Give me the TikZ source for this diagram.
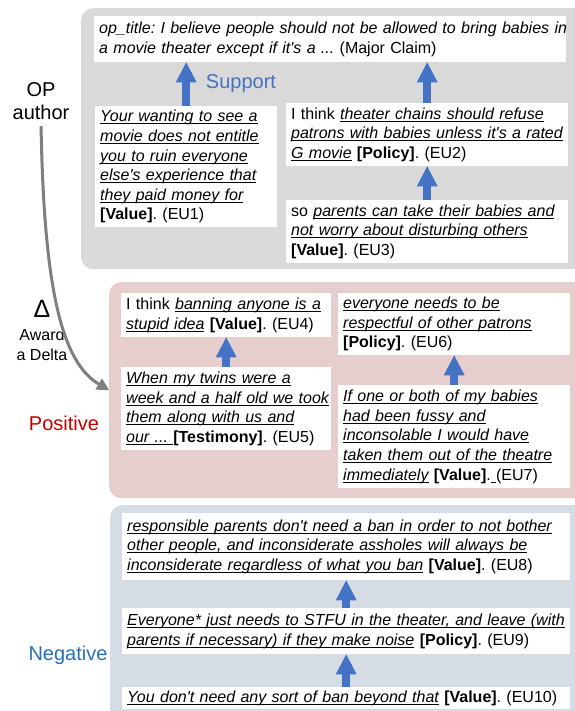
\documentclass[tikz,border=0pt]{standalone}
\usepackage{fontspec}
\setmainfont{Liberation Sans}
\usetikzlibrary{arrows.meta}

\definecolor{panelgray}{HTML}{D9D9D9}
\definecolor{panelpink}{HTML}{E6CDCE}
\definecolor{panelblue}{HTML}{D6DCE4}
\definecolor{arrowblue}{HTML}{4472C4}
\definecolor{posred}{HTML}{C00000}
\definecolor{negblue}{HTML}{2271B8}
\definecolor{deltagray}{HTML}{7F7F7F}

\newsavebox{\ulbox}
\newcommand{\uit}[1]{\leavevmode\sbox\ulbox{\itshape #1}\rlap{\rule[-2.4pt]{\wd\ulbox}{0.9pt}}\usebox\ulbox}
\newcommand{\ap}{\textquotesingle}

\begin{document}
\begin{tikzpicture}[x=1pt, y=-1pt]
  % Define styles
  \tikzstyle{panel} = [rounded corners=12pt, anchor=north west, inner sep=0pt]
  \tikzstyle{unit} = [fill=white, anchor=north west, align=left, inner xsep=5pt, inner ysep=2pt, font=\fontsize{16}{19.6}\selectfont\frenchspacing]
  \tikzstyle{support} = [draw=arrowblue, line width=8pt, -{Triangle[width=21pt, length=20pt, line width=0pt]}]
  \tikzstyle{award} = [draw=deltagray, line width=3pt, -{Triangle[width=13pt, length=12pt, line width=0pt]}]
  \tikzstyle{sidetext} = [align=center, font=\fontsize{20}{23}\selectfont]

  \useasboundingbox (0,0) rectangle (574,711);

  % Panels
  \node[panel, fill=panelgray, minimum width=520pt, minimum height=261pt] (oppanel) at (81,8) {};
  \node[panel, fill=panelpink, minimum width=490pt, minimum height=216pt] (pospanel) at (109,282) {};
  \node[panel, fill=panelblue, minimum width=490pt, minimum height=225pt] (negpanel) at (110,505) {};

  % OP author part
  \node[unit, text width=462pt, minimum height=46pt] (title) at (94,16)
    {\mbox{\itshape op\_title: I believe people should not be allowed to bring babies in}\\
     \mbox{\itshape a movie theater except if it\ap s a ... \upshape(Major Claim)}};
  \node[unit, text width=172pt, minimum height=121pt] (eu1) at (95,106)
    {\uit{Your wanting to see a}\\ \uit{movie does not entitle}\\ \uit{you to ruin everyone}\\
     \uit{else\ap s experience that}\\ \uit{they paid money for}\\ \textbf{[Value]}. (EU1)};
  \node[unit, text width=272pt, minimum height=63pt] (eu2) at (286,103)
    {I think \uit{theater chains should refuse}\\ \uit{patrons with babies unless it\ap s a rated}\\
     \uit{G movie} \textbf{[Policy]}. (EU2)};
  \node[unit, text width=272pt, minimum height=63pt] (eu3) at (286,200)
    {so \uit{parents can take their babies and}\\ \uit{not worry about disturbing others}\\
     \textbf{[Value]}. (EU3)};

  % Positive part
  \node[unit, text width=200pt, minimum height=44pt] (eu4) at (121,293)
    {I think \uit{banning anyone is a}\\ \uit{stupid idea} \textbf{[Value]}. (EU4)};
  \node[unit, text width=200pt, minimum height=83pt] (eu5) at (121,367)
    {\uit{When my twins were a}\\ \uit{week and a half old we took}\\ \uit{them along with us and}\\
     \uit{our ...\ }\textbf{[Testimony]}. (EU5)};
  \node[unit, text width=222pt, minimum height=62pt] (eu6) at (338,293)
    {\uit{everyone needs to be}\\ \uit{respectful of other patrons}\\ \textbf{[Policy]}. (EU6)};
  \node[unit, text width=222pt, minimum height=103pt] (eu7) at (338,385)
    {\uit{If one or both of my babies}\\ \uit{had been fussy and}\\ \uit{inconsolable I would have}\\
     \uit{taken them out of the theatre}\\ \uit{immediately} \textbf{[Value]}.\uit{\ }(EU7)};

  % Negative part
  \node[unit, text width=438pt, minimum height=67pt] (eu8) at (122,513)
    {\uit{responsible parents don\ap t need a ban in order to not bother}\\
     \uit{other people, and inconsiderate assholes will always be}\\
     \uit{inconsiderate regardless of what you ban} \textbf{[Value]}. (EU8)};
  \node[unit, text width=438pt, minimum height=46pt] (eu9) at (122,608)
    {\uit{Everyone* just needs to STFU in the theater, and leave (with}\\
     \uit{parents if necessary) if they make noise} \textbf{[Policy]}. (EU9)};
  \node[unit, text width=438pt, minimum height=22pt] (eu10) at (122,687)
    {\uit{You don\ap t need any sort of ban beyond that} \textbf{[Value]}. (EU10)};

  % Side labels
  \node[sidetext] (author) at (41,101) {OP\\author};
  \node[font=\fontsize{25}{25}\selectfont] (delta) at (42,309) {Δ};
  \node[align=center, font=\fontsize{16}{20}\selectfont] (award) at (42,345) {Award\\a Delta};
  \node[sidetext, text=posred] (positive) at (64,423) {Positive};
  \node[sidetext, text=negblue] (negative) at (68,655) {Negative};
  \node[sidetext, text=arrowblue] (supportlabel) at (241,84) {Support};

  % Support arrows
  \draw[support] (eu1.north) -- (title.south -| eu1.north);
  \draw[support] (eu2.north) -- (title.south -| eu2.north);
  \draw[support] (eu3.north) -- (eu2.south);
  \draw[support] (eu5.north) -- (eu4.south);
  \draw[support] (eu7.north) -- (eu6.south);
  \draw[support] (eu9.north) -- (eu8.south);
  \draw[support] (eu10.north) -- (eu9.south);

  % Award arrow
  \draw[award, shorten <=3pt] (author.south) .. controls (44,290) and (62,362) .. (pospanel.west);
\end{tikzpicture}
\end{document}
